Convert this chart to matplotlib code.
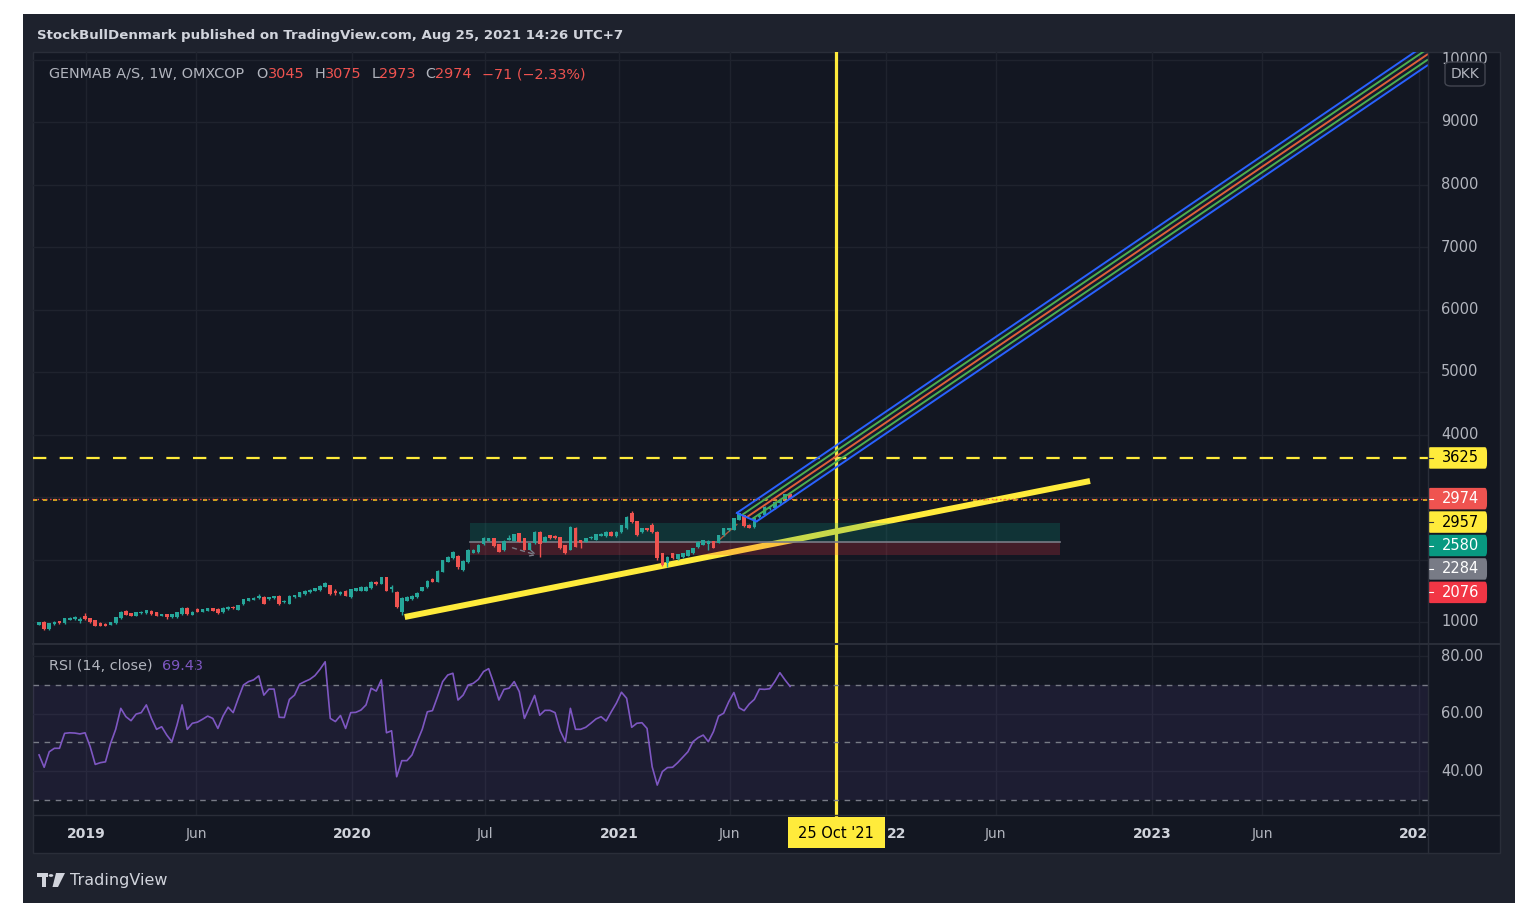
import matplotlib
matplotlib.use('Agg')
import matplotlib.pyplot as plt
import matplotlib.dates as mdates
from matplotlib.patches import Rectangle, FancyBboxPatch, Polygon, Circle
import numpy as np
import pandas as pd

# ---------------- data ----------------
first_week = '2018-10-29'
open_ = [955, 1000, 888, 968, 1011, 979, 1035, 1045, 1010, 1100,
         1059, 1032, 989, 973, 952, 979, 1059, 1176, 1139, 1096,
         1139, 1139, 1181, 1155, 1101, 1128, 1075, 1075, 1128, 1229,
         1117, 1208, 1165, 1181, 1219, 1210, 1155, 1203, 1245, 1192,
         1283, 1341, 1357, 1379, 1405, 1368, 1379, 1416, 1315, 1293,
         1395, 1400, 1443, 1475, 1496, 1507, 1560, 1592, 1501, 1448,
         1496, 1395, 1501, 1501, 1496, 1539, 1645, 1613, 1715, 1528,
         1485, 1165, 1342, 1363, 1395, 1501, 1555, 1683, 1645, 1805,
         1965, 2019, 2056, 1832, 1960, 2110, 2120, 2245, 2300, 2340,
         2245, 2150, 2312, 2296, 2419, 2340, 2152, 2259, 2445, 2285,
         2392, 2381, 2355, 2232, 2152, 2509, 2312, 2285, 2339, 2312,
         2375, 2370, 2445, 2370, 2445, 2500, 2740, 2610, 2440, 2500,
         2560, 2440, 2100, 1940, 2100, 2005, 2040, 2060, 2100, 2200,
         2240, 2250, 2290, 2270, 2390, 2470, 2480, 2640, 2710, 2560,
         2520, 2680, 2720, 2800, 2820, 2900, 2930, 3045]
high = [1005, 1010, 985, 1015, 1020, 1065, 1075, 1100, 1080, 1140,
        1065, 1040, 995, 980, 1000, 1080, 1170, 1185, 1145, 1160,
        1180, 1200, 1190, 1160, 1135, 1135, 1130, 1160, 1240, 1235,
        1175, 1225, 1215, 1225, 1230, 1220, 1240, 1255, 1255, 1280,
        1370, 1385, 1395, 1448, 1415, 1405, 1420, 1425, 1350, 1430,
        1440, 1480, 1510, 1525, 1545, 1590, 1635, 1600, 1530, 1495,
        1505, 1530, 1545, 1570, 1575, 1655, 1660, 1725, 1720, 1600,
        1500, 1395, 1415, 1425, 1480, 1565, 1665, 1700, 1830, 2000,
        2055, 2135, 2070, 1985, 2170, 2175, 2250, 2360, 2350, 2350,
        2255, 2305, 2390, 2410, 2430, 2350, 2270, 2455, 2455, 2375,
        2400, 2390, 2365, 2240, 2535, 2520, 2320, 2345, 2375, 2410,
        2425, 2450, 2455, 2450, 2560, 2700, 2775, 2620, 2510, 2510,
        2580, 2450, 2110, 2055, 2110, 2095, 2110, 2160, 2190, 2295,
        2320, 2315, 2300, 2400, 2510, 2510, 2670, 2750, 2720, 2570,
        2670, 2730, 2855, 2840, 2935, 2960, 3055, 3075]
low = [945, 880, 880, 960, 975, 975, 1030, 1040, 990, 1040,
       990, 930, 935, 935, 945, 975, 1055, 1105, 1095, 1090,
       1135, 1135, 1118, 1095, 1095, 1050, 1070, 1070, 1120, 1115,
       1110, 1160, 1160, 1175, 1175, 1130, 1150, 1200, 1210, 1185,
       1275, 1335, 1350, 1375, 1285, 1360, 1375, 1280, 1305, 1290,
       1390, 1395, 1440, 1470, 1490, 1500, 1555, 1440, 1440, 1440,
       1410, 1385, 1495, 1495, 1490, 1535, 1600, 1605, 1490, 1480,
       1230, 1110, 1335, 1355, 1390, 1495, 1550, 1635, 1640, 1800,
       1955, 2010, 1850, 1820, 1950, 2100, 2110, 2240, 2290, 2200,
       2120, 2140, 2305, 2290, 2280, 2145, 2145, 2250, 2045, 2280,
       2335, 2335, 2170, 2090, 2145, 2200, 2179, 2280, 2330, 2305,
       2370, 2360, 2370, 2360, 2430, 2490, 2590, 2380, 2430, 2460,
       2430, 1990, 1890, 1880, 2010, 1995, 2030, 2050, 2090, 2190,
       2230, 2160, 2180, 2260, 2380, 2460, 2470, 2630, 2520, 2500,
       2510, 2670, 2710, 2790, 2810, 2890, 2920, 2973]
close = [995, 893, 979, 1005, 980, 1059, 1064, 1075, 1050, 1045,
         995, 936, 941, 941, 995, 1075, 1165, 1112, 1101, 1155,
         1165, 1192, 1123, 1101, 1128, 1075, 1123, 1155, 1229, 1123,
         1165, 1165, 1208, 1219, 1181, 1139, 1230, 1245, 1219, 1272,
         1363, 1379, 1389, 1411, 1293, 1400, 1411, 1288, 1341, 1421,
         1432, 1475, 1501, 1517, 1539, 1581, 1624, 1448, 1459, 1485,
         1421, 1523, 1539, 1560, 1565, 1645, 1608, 1715, 1496, 1560,
         1245, 1389, 1405, 1416, 1469, 1555, 1656, 1645, 1821, 1992,
         2045, 2125, 1885, 1976, 2160, 2160, 2240, 2345, 2340, 2210,
         2125, 2296, 2340, 2403, 2285, 2152, 2259, 2445, 2243, 2365,
         2339, 2339, 2179, 2099, 2525, 2205, 2259, 2339, 2365, 2403,
         2415, 2440, 2380, 2440, 2552, 2685, 2605, 2400, 2500, 2470,
         2440, 2020, 1915, 2045, 2020, 2085, 2100, 2150, 2180, 2285,
         2310, 2300, 2190, 2390, 2500, 2500, 2660, 2740, 2530, 2510,
         2660, 2720, 2845, 2830, 2925, 2950, 3045, 2974]
rsi = [45.6, 41.3, 46.7, 47.9, 47.9, 53.1, 53.3, 53.2, 52.9, 53.3,
       48.5, 42.3, 42.9, 43.2, 49.6, 54.5, 61.8, 58.9, 57.5, 59.8,
       60.3, 63.0, 58.3, 54.5, 55.4, 52.5, 50.2, 56.0, 63.0, 54.5,
       56.6, 57.0, 58.0, 59.1, 58.3, 54.8, 59.1, 62.2, 60.3, 65.3,
       69.9, 71.1, 71.7, 73.1, 66.4, 68.5, 68.5, 58.7, 58.6, 64.9,
       66.4, 70.2, 71.1, 71.9, 73.2, 75.4, 78.0, 58.3, 57.2, 59.3,
       54.8, 60.3, 60.4, 61.2, 63.0, 68.8, 67.8, 71.7, 53.3, 54.0,
       38.0, 43.6, 43.6, 45.6, 50.2, 54.5, 60.6, 61.0, 65.9, 71.1,
       73.4, 74.0, 64.7, 66.4, 69.9, 70.5, 71.9, 74.6, 75.6, 70.5,
       64.7, 68.4, 68.8, 71.1, 67.6, 58.3, 62.3, 66.3, 59.4, 61.1,
       61.1, 60.3, 54.0, 50.2, 61.8, 54.5, 54.5, 55.2, 56.6, 58.1,
       58.9, 57.4, 60.6, 63.6, 67.4, 65.3, 55.2, 56.6, 56.8, 54.8,
       41.5, 35.1, 39.8, 41.2, 41.3, 42.9, 44.8, 46.7, 50.2, 51.6,
       52.5, 50.2, 53.7, 59.1, 60.1, 64.1, 67.3, 62.0, 61.0, 63.3,
       64.9, 68.5, 68.4, 68.6, 71.1, 74.2, 71.7, 69.43]

price_ticks = [1000, 2000, 3000, 4000, 5000, 6000, 7000, 8000, 9000, 10000]
rsi_ticks = [40, 60, 80]
time_tick_dates = ['2019-01-01', '2019-06-01', '2020-01-01', '2020-07-01', '2021-01-01',
                   '2021-06-01', '2022-01-01', '2022-06-01', '2023-01-01', '2023-06-01',
                   '2024-01-01']
time_tick_labels = ['2019', 'Jun', '2020', 'Jul', '2021', 'Jun', '2022', 'Jun', '2023', 'Jun', '2024']

# drawings
trend_dates = ['2020-03-13', '2022-10-08']
trend_vals = [1080, 3256]
vline_date = '2021-10-25'
vline_label = "25 Oct '21"
target_line = 3625
user_level = 2957
last_close = 2974
pos_dates = ['2020-06-10', '2022-08-28']
pos_entry, pos_target, pos_stop = 2284, 2580, 2076
channel_dates = ['2021-06-11', '2024-01-14']
channel_upper = [2744, 10263]
channel_width = 350
channel_cap_days = 27
path_dates = ['2021-05-15', '2021-06-11']
path_vals = [2284, 2560]
arrow_dates = ['2020-08-04', '2020-09-14']
arrow_vals = [2200, 2056]

header = "StockBullDenmark published on TradingView.com, Aug 25, 2021 14:26 UTC+7"
symbol = "GENMAB A/S, 1W, OMXCOP"
change_text = "\u221271 (\u22122.33%)"

# ---------------- figure ----------------
W, H = 1523, 915
fig = plt.figure(figsize=(W / 100, H / 100), dpi=100)
fig.patch.set_facecolor('white')

BG = '#131722'
OUTER = '#1e222d'
GRID = '#1f232e'
BORDER = '#2a2e39'
TXT = '#b2b5be'
UP, DOWN = '#26a69a', '#ef5350'
YEL = '#ffeb3b'


def frect(x0, y0, x1, y1):
    return [x0 / W, 1 - y1 / H, (x1 - x0) / W, (y1 - y0) / H]


def prect(x0, y0, x1, y1, **kw):
    r = Rectangle((x0 / W, 1 - y1 / H), (x1 - x0) / W, (y1 - y0) / H,
                  transform=fig.transFigure, **kw)
    fig.add_artist(r)
    return r


prect(23, 14, 1515, 903, facecolor=OUTER, edgecolor='none', zorder=0)
prect(33, 52, 1500, 853, facecolor=BG, edgecolor=BORDER, lw=1, zorder=0)

x_left = mdates.date2num(pd.Timestamp('2018-10-20 17:00'))
x_right = mdates.date2num(pd.Timestamp('2024-01-14'))

ax = fig.add_axes(frect(33, 52, 1428, 643))
axr = fig.add_axes(frect(33, 645, 1428, 815))
axt = fig.add_axes(frect(33, 815, 1428, 853))
axp = fig.add_axes(frect(1428, 52, 1500, 643))
axpr = fig.add_axes(frect(1428, 645, 1500, 815))

for a in (ax, axr, axt, axp, axpr):
    a.set_facecolor('none')
    for s in a.spines.values():
        s.set_visible(False)
    a.set_xticks([])
    a.set_yticks([])

for a in (ax, axr, axt):
    a.set_xlim(x_left, x_right)
ax.set_ylim(664, 10120)
axp.set_ylim(664, 10120)
axp.set_xlim(0, 1)
axr.set_ylim(24.7, 83.83)
axpr.set_ylim(24.7, 83.83)
axpr.set_xlim(0, 1)
axt.set_ylim(0, 1)

# separators
fig.add_artist(plt.Line2D([33 / W, 1500 / W], [1 - 644 / H] * 2, color=BORDER, lw=1.5, transform=fig.transFigure))
fig.add_artist(plt.Line2D([33 / W, 1500 / W], [1 - 815 / H] * 2, color=BORDER, lw=1, transform=fig.transFigure))
fig.add_artist(plt.Line2D([1428 / W] * 2, [1 - 52 / H, 1 - 853 / H], color=BORDER, lw=1, transform=fig.transFigure))

# grid
tick_nums = mdates.date2num(pd.to_datetime(time_tick_dates))
for t in tick_nums:
    ax.axvline(t, color=GRID, lw=1, zorder=0)
    axr.axvline(t, color=GRID, lw=1, zorder=0)
for v in price_ticks:
    ax.axhline(v, color=GRID, lw=1, zorder=0)
for v in rsi_ticks:
    axr.axhline(v, color=GRID, lw=1, zorder=0)

# ---------------- price pane ----------------
dates = pd.date_range(first_week, periods=len(close), freq='7D')
xd = mdates.date2num(dates)
o = np.array(open_, float)
c = np.array(close, float)
hi = np.array(high, float)
lo = np.array(low, float)
cols = np.where(c >= o, UP, DOWN)

# trendline & vertical line (below the position boxes)
td = mdates.date2num(pd.to_datetime(trend_dates))
ax.plot(td, trend_vals, color=YEL, lw=4.3, solid_capstyle='butt', zorder=2)
vx = mdates.date2num(pd.Timestamp(vline_date))
ax.axvline(vx, color=YEL, lw=2.3, zorder=2)
axr.axvline(vx, color=YEL, lw=2.3, zorder=2)

# long position boxes
pd0, pd1 = mdates.date2num(pd.to_datetime(pos_dates))
ax.add_patch(Rectangle((pd0, pos_entry), pd1 - pd0, pos_target - pos_entry,
                       facecolor='#089981', alpha=0.22, edgecolor='none', zorder=3))
ax.add_patch(Rectangle((pd0, pos_stop), pd1 - pd0, pos_entry - pos_stop,
                       facecolor='#f23645', alpha=0.22, edgecolor='none', zorder=3))
ax.plot([pd0, pd1], [pos_entry, pos_entry], color='#787b86', lw=1.2, zorder=3)
pth = mdates.date2num(pd.to_datetime(path_dates))
ax.plot(pth, path_vals, color='#b5563a', lw=1, zorder=3)
arr = mdates.date2num(pd.to_datetime(arrow_dates))
ax.annotate('', xy=(arr[1], arrow_vals[1]), xytext=(arr[0], arrow_vals[0]),
            arrowprops=dict(arrowstyle='->', color='#787b86', lw=1, linestyle=(0, (3, 3))), zorder=3)

# candles
ax.vlines(xd, lo, hi, colors=cols, lw=1, zorder=4)
ax.bar(xd, np.maximum(np.abs(c - o), 10), bottom=np.minimum(o, c), width=5.0,
       color=cols, linewidth=0, zorder=5)

# horizontal levels
ax.axhline(target_line, color=YEL, lw=1.6, dashes=(6, 6), zorder=6)
ax.axhline(user_level, color='#f0c419', lw=1.2, dashes=(2.5, 3.5), zorder=6)
ax.axhline(last_close, color=DOWN, lw=1, dashes=(1, 2), zorder=6)

# channel
cd = mdates.date2num(pd.to_datetime(channel_dates))
slope = (channel_upper[1] - channel_upper[0]) / (cd[1] - cd[0])
ch_cols = ['#2962ff', '#4caf50', '#e0603a', '#4caf50', '#2962ff']
starts = []
for i, col in enumerate(ch_cols):
    s = cd[0] + i * channel_cap_days / 4
    off = i * channel_width / 4
    v0 = channel_upper[0] + slope * (s - cd[0]) - off
    v1 = channel_upper[1] - off
    starts.append((s, v0))
    ax.plot([s, cd[1]], [v0, v1], color=col, lw=1.4, zorder=7, solid_capstyle='butt')
ax.plot([starts[0][0], starts[-1][0]], [starts[0][1], starts[-1][1]], color='#2962ff', lw=1.4, zorder=7)
ax.add_patch(Polygon([starts[0], (cd[1], channel_upper[1]),
                      (cd[1], channel_upper[1] - channel_width), starts[-1]],
                     closed=True, facecolor='#2962ff', alpha=0.06, edgecolor='none', zorder=6))

# ---------------- RSI pane ----------------
axr.axhspan(30, 70, color='#7e57c2', alpha=0.1, lw=0, zorder=1)
for v in (70, 50, 30):
    axr.axhline(v, color='#787b86', lw=1, dashes=(4, 4), zorder=2)
axr.plot(xd, rsi, color='#7e57c2', lw=1.2, zorder=4)

# ---------------- scales ----------------
plabels = [(target_line, YEL, 'black'), (last_close, DOWN, 'white'), (user_level, YEL, 'black'),
           (pos_target, '#089981', 'white'), (pos_entry, '#787b86', 'white'), (pos_stop, '#f23645', 'white')]
gap = 375
slots = []
prev = None
for v, bg, fg in plabels:
    pos = v if prev is None else min(v, prev - gap)
    slots.append(pos)
    prev = pos

for v in price_ticks:
    if any(abs(v - s) < gap * 0.8 for s in slots):
        continue
    axp.text(0.18, v, f'{v}', color=TXT, fontsize=10.5, va='center', ha='left', clip_on=True)
for (v, bg, fg), s in zip(plabels, slots):
    axp.add_patch(FancyBboxPatch((0.0, s - 172), 0.82, 344, boxstyle='round,pad=0,rounding_size=0.03',
                                 facecolor=bg, edgecolor='none', mutation_aspect=3000, zorder=5))
    axp.text(0.45, s, f'{v}', color=fg, fontsize=10.5, va='center', ha='center', zorder=6)
    axp.plot([0, 0.07], [s, s], color=fg if bg != YEL else '#333333', lw=0.8, zorder=7)

# DKK badge
fig.add_artist(FancyBboxPatch((1445 / W, 1 - 86 / H), 40 / W, 24 / H,
                              boxstyle='round,pad=0,rounding_size=0.004', transform=fig.transFigure,
                              facecolor=BG, edgecolor='#434651', lw=1, zorder=5))
fig.text(1465 / W, 1 - 74 / H, 'DKK', color=TXT, fontsize=10, ha='center', va='center', zorder=6)

for v in rsi_ticks:
    axpr.text(0.18, v, f'{v:.2f}', color=TXT, fontsize=10.5, va='center', ha='left')

# time axis: the date badge hides the left part of a tick label it covers
badge_days = 133
fig.canvas.draw()
renderer = fig.canvas.get_renderer()
badge_left_px = axt.transData.transform((vx - badge_days / 2, 0))[0]
badge_right_px = axt.transData.transform((vx + badge_days / 2, 0))[0]
for t, lab in zip(tick_nums, time_tick_labels):
    yr = lab.isdigit()
    kw = dict(color='#d1d4dc' if yr else TXT, fontsize=10,
              fontweight='bold' if yr else 'normal', va='center', clip_on=True)
    txt = axt.text(t, 0.5, lab, ha='center', **kw)
    bb = txt.get_window_extent(renderer)
    if bb.x1 > badge_left_px and bb.x0 < badge_right_px:
        txt.remove()
        # show only the characters that stick out to the right of the badge
        for k in range(1, len(lab)):
            tail = axt.text(0, 0.5, lab[k:], ha='right', **kw)
            tail.set_x(t)
            tail.remove()
        n_hidden = 2
        axt.annotate(lab[n_hidden:], xy=(badge_right_px + 2, 0), xycoords='figure pixels',
                     xytext=(0, 0), textcoords='offset points', ha='left', va='center',
                     **{k: v for k, v in kw.items() if k not in ('va', 'clip_on')})
axt.plot([vx, vx], [1, 0.9], color=YEL, lw=2.3)
axt.add_patch(Rectangle((vx - badge_days / 2, 0.12), badge_days, 0.83, facecolor=YEL, edgecolor='none', zorder=5))
axt.text(vx, 0.5, vline_label, color='black', fontsize=10.5, ha='center', va='center', zorder=6)

# fix vertical position of the partially hidden label (figure pixels y of the time axis centre)
for child in axt.texts:
    if child.get_text() == '22':
        child.xy = (badge_right_px + 2, H - 834)

# ---------------- texts ----------------
fig.text(37 / W, 1 - 36 / H, header, color='#d1d4dc', fontsize=9.6, fontweight='semibold',
         ha='left', va='center')

red = '#ef5350'
legend_parts = [('O', TXT, 9), ('3045', red, 0), ('H', TXT, 7), ('3075', red, 0),
                ('L', TXT, 7), ('2973', red, 0), ('C', TXT, 7), ('2974', red, 0),
                (change_text, red, 7)]
prev_t = fig.text(49 / W, 1 - 74 / H, symbol, color=TXT, fontsize=10.4, ha='left', va='center')
for s, col, g in legend_parts:
    prev_t = ax.annotate(s, xy=(1, 0.5), xycoords=prev_t, xytext=(g, 0),
                         textcoords='offset points', color=col, fontsize=10.4,
                         ha='left', va='center', annotation_clip=False)

r0 = fig.text(49 / W, 1 - 666 / H, 'RSI (14, close)', color=TXT, fontsize=10.4, ha='left', va='center')
ax.annotate(f'{rsi[-1]:.2f}', xy=(1, 0.5), xycoords=r0, xytext=(7, 0), textcoords='offset points',
            color='#7e57c2', fontsize=10.4, ha='left', va='center', annotation_clip=False)

# TradingView logo
prect(37, 873, 48, 877, facecolor='#d1d4dc', edgecolor='none', zorder=3)
prect(41.5, 873, 45.5, 887, facecolor='#d1d4dc', edgecolor='none', zorder=3)
fig.add_artist(Circle((51 / W, 1 - 875.5 / H), 2.3 / W, transform=fig.transFigure,
                      facecolor='#d1d4dc', edgecolor='none', zorder=3))
fig.add_artist(Polygon([(56 / W, 1 - 873 / H), (65 / W, 1 - 873 / H), (58 / W, 1 - 887 / H),
                        (52.5 / W, 1 - 887 / H)], closed=True, transform=fig.transFigure,
                       facecolor='#d1d4dc', edgecolor='none', zorder=3))
fig.text(70 / W, 1 - 880 / H, 'TradingView', color='#d1d4dc', fontsize=11.5, ha='left', va='center')

fig.savefig('out.png', dpi=100, facecolor='white')
